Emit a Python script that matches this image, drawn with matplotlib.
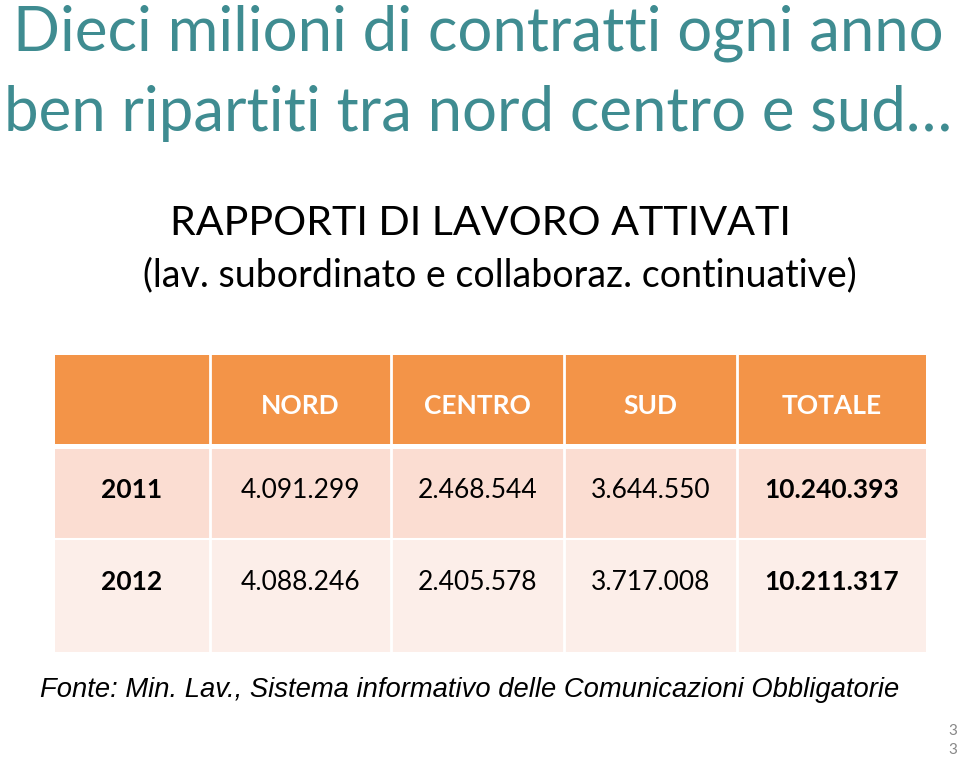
import matplotlib
matplotlib.use("Agg")
import matplotlib.pyplot as plt
from matplotlib.patches import Rectangle

# data
columns = ["NORD", "CENTRO", "SUD", "TOTALE"]
years = ["2011", "2012"]
nord = [4091299, 4088246]
centro = [2468544, 2405578]
sud = [3644550, 3717008]
totale = [10240393, 10211317]

TEAL = "#3F8C91"
ORANGE = "#F39448"
ROW1 = "#FBDDD2"
ROW2 = "#FCEEE9"
FONT = "Lato"


def it_num(v):
    # Italian thousands separator
    return f"{v:,}".replace(",", ".")


W, H = 960, 758
fig = plt.figure(figsize=(W / 100, H / 100), dpi=100)
ax = fig.add_axes([0, 0, 1, 1])
ax.set_xlim(0, W)
ax.set_ylim(H, 0)
ax.axis("off")

# slide titles
ax.text(478, 51, "Dieci milioni di contratti ogni anno", ha="center", va="baseline",
        fontsize=44.5, color=TEAL, family=FONT)
ax.text(478, 131, "ben ripartiti tra nord centro e sud\u2026", ha="center", va="baseline",
        fontsize=44.5, color=TEAL, family=FONT)
ax.text(480, 235, "RAPPORTI DI LAVORO ATTIVATI", ha="center", va="baseline",
        fontsize=29.7, color="black", family=FONT)
ax.text(500, 286, "(lav. subordinato e collaboraz. continuative)", ha="center", va="baseline",
        fontsize=27, color="black", family=FONT)

# table, pixel geometry
col_x = [55, 210, 391, 564, 737, 926]
row_y = [355, 444, 449, 539, 652]
ax.add_patch(Rectangle((col_x[0], row_y[0]), col_x[-1] - col_x[0], row_y[1] - row_y[0],
                       fc=ORANGE, ec="none"))
ax.add_patch(Rectangle((col_x[0], row_y[2]), col_x[-1] - col_x[0], row_y[3] - row_y[2],
                       fc=ROW1, ec="none"))
ax.add_patch(Rectangle((col_x[0], row_y[3]), col_x[-1] - col_x[0], row_y[4] - row_y[3],
                       fc=ROW2, ec="none"))
for x in col_x[1:-1]:
    ax.plot([x, x], [row_y[0], row_y[-1]], color="white", lw=2)
ax.plot([col_x[0], col_x[-1]], [row_y[3], row_y[3]], color="white", lw=1.5)

centers = [(col_x[i] + col_x[i + 1]) / 2 for i in range(5)]
FS = 19
for c, name in zip(centers[1:], columns):
    ax.text(c, 406, name, ha="center", va="center", fontsize=FS, color="white",
            fontweight="bold", family=FONT)

row_cy = [490, 582]
series = [nord, centro, sud, totale]
for r, yr in enumerate(years):
    ax.text(centers[0] - 1, row_cy[r], yr, ha="center", va="center", fontsize=FS,
            fontweight="bold", family=FONT)
    for j, s in enumerate(series):
        ax.text(centers[j + 1], row_cy[r], it_num(s[r]), ha="center", va="center",
                fontsize=FS, fontweight="bold" if j == 3 else "normal", family=FONT)

ax.text(40, 697, "Fonte: Min. Lav., Sistema informativo delle Comunicazioni Obbligatorie",
        ha="left", va="baseline", fontsize=19.7, style="italic", family="Liberation Sans")

# page number
ax.text(953, 731, "3", ha="center", va="center", fontsize=11, color="#888888", family=FONT)
ax.text(953, 750, "3", ha="center", va="center", fontsize=11, color="#888888", family=FONT)

fig.savefig("out.png", dpi=100, facecolor="white")
